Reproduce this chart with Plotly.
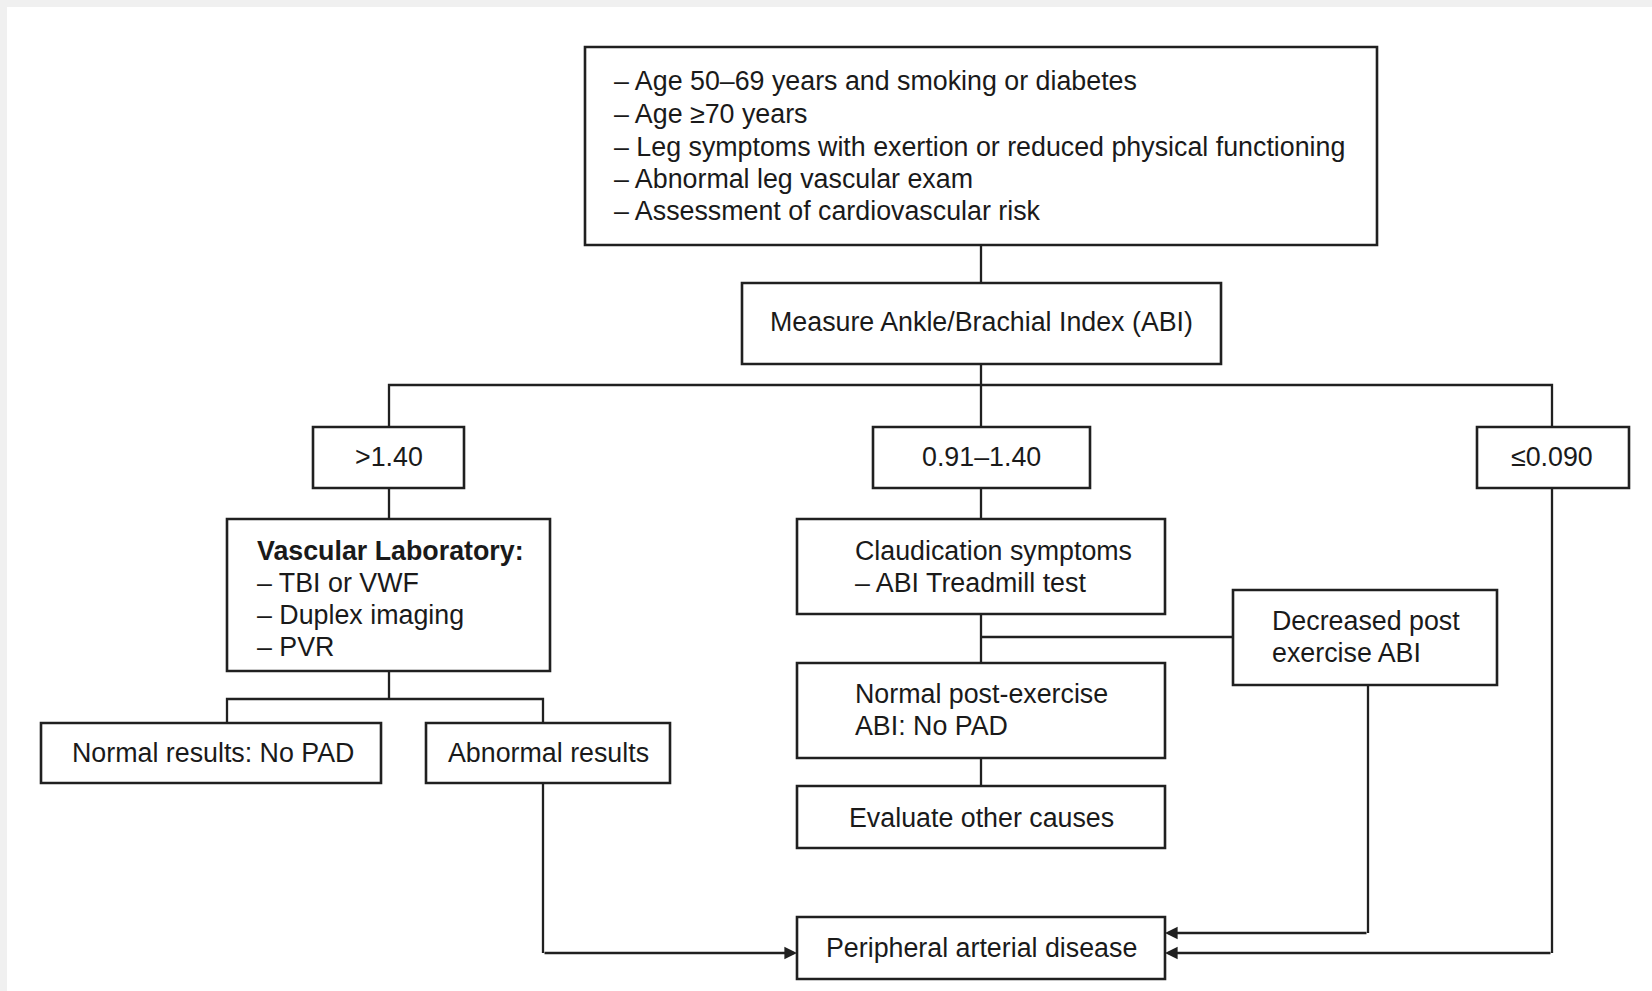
import plotly.graph_objects as go

# ---------------- content (text of the flowchart) ----------------
risk_lines = [
    "– Age 50–69 years and smoking or diabetes",
    "– Age ≥70 years",
    "– Leg symptoms with exertion or reduced physical functioning",
    "– Abnormal leg vascular exam",
    "– Assessment of cardiovascular risk",
]
abi_label = "Measure Ankle/Brachial Index (ABI)"
abi_ranges = [">1.40", "0.91–1.40", "≤0.090"]
vascular_lines = ["<b>Vascular Laboratory:</b>", "– TBI or VWF", "– Duplex imaging", "– PVR"]
vascular_results = ["Normal results: No PAD", "Abnormal results"]
claudication_lines = ["Claudication symptoms", "– ABI Treadmill test"]
decreased_lines = ["Decreased post", "exercise ABI"]
normal_post_lines = ["Normal post-exercise", "ABI: No PAD"]
evaluate_label = "Evaluate other causes"
pad_label = "Peripheral arterial disease"

# ---------------- layout geometry (pixels of the page) ----------------
W, H = 1652, 991
boxes = {
    "top": (585, 47, 1377, 245),
    "abi": (742, 283, 1221, 364),
    "gt": (313, 427, 464, 488),
    "mid": (873, 427, 1090, 488),
    "le": (1477, 427, 1629, 488),
    "vasc": (227, 519, 550, 671),
    "normal": (41, 723, 381, 783),
    "abnormal": (426, 723, 670, 783),
    "claud": (797, 519, 1165, 614),
    "decr": (1233, 590, 1497, 685),
    "normpost": (797, 663, 1165, 758),
    "evalo": (797, 786, 1165, 848),
    "pad": (797, 917, 1165, 979),
}
connectors = [
    [(981, 245), (981, 283)],
    [(981, 364), (981, 427)],
    [(389, 427), (389, 385), (1552, 385), (1552, 427)],
    [(389, 488), (389, 519)],
    [(389, 671), (389, 699)],
    [(227, 723), (227, 699), (543, 699), (543, 723)],
    [(981, 488), (981, 519)],
    [(981, 614), (981, 663)],
    [(981, 637), (1233, 637)],
    [(981, 758), (981, 786)],
    [(543, 783), (543, 953)],
    [(1368, 685), (1368, 933)],
    [(1552, 488), (1552, 953)],
]
arrows = [  # (tail, head)
    ((543, 953), (797, 953)),
    ((1368, 933), (1165, 933)),
    ((1552, 953), (1165, 953)),
]

FONT = "Liberation Sans, Arial, Helvetica, sans-serif"
FS = 26.8
TXT = "#1a1a1a"
EDGE = "#202020"

fig = go.Figure()
shapes = []
annotations = []

# light grey page strips (top and left)
shapes.append(dict(type="rect", xref="x", yref="y", x0=0, x1=W, y0=0, y1=7,
                   line=dict(width=0), fillcolor="#f0f0f0", layer="below"))
shapes.append(dict(type="rect", xref="x", yref="y", x0=0, x1=7, y0=0, y1=H,
                   line=dict(width=0), fillcolor="#f0f0f0", layer="below"))

for name, (x0, y0, x1, y1) in boxes.items():
    shapes.append(dict(type="rect", xref="x", yref="y", x0=x0, y0=y0, x1=x1, y1=y1,
                       line=dict(color=EDGE, width=2.6), fillcolor="white"))

for pts in connectors:
    path = "M " + " L ".join(f"{x},{y}" for x, y in pts)
    shapes.append(dict(type="path", xref="x", yref="y", path=path,
                       line=dict(color=EDGE, width=2.3)))


def text(x, y, s, anchor="left"):
    annotations.append(dict(x=x, y=y, xref="x", yref="y", text=s, showarrow=False,
                            xanchor=anchor, yanchor="middle",
                            font=dict(family=FONT, size=FS, color=TXT)))


def block(x, ys, lines, anchor="left"):
    for yy, s in zip(ys, lines):
        text(x, yy, s, anchor)


block(612, [81, 114, 146.5, 179, 211], risk_lines)
text(981, 322, abi_label, "center")
for cx, s in zip([389, 981, 1552], abi_ranges):
    text(cx, 457, s, "center")
block(255, [551, 583, 615, 647], vascular_lines)
text(213, 753, vascular_results[0], "center")
text(548, 753, vascular_results[1], "center")
block(853, [551, 583], claudication_lines)
block(1270, [621, 653], decreased_lines)
block(853, [694, 726], normal_post_lines)
text(981, 818, evaluate_label, "center")
text(981, 948, pad_label, "center")

for (tx, ty), (hx, hy) in arrows:
    annotations.append(dict(x=hx, y=hy, ax=tx, ay=ty, xref="x", yref="y",
                            axref="x", ayref="y", text="", showarrow=True,
                            arrowhead=2, arrowsize=1.1, arrowwidth=2.3,
                            arrowcolor=EDGE, standoff=0))

fig.update_layout(
    width=W, height=H,
    margin=dict(l=0, r=0, t=0, b=0),
    paper_bgcolor="white", plot_bgcolor="white",
    xaxis=dict(range=[0, W], visible=False, fixedrange=True),
    yaxis=dict(range=[H, 0], visible=False, fixedrange=True),
    shapes=shapes, annotations=annotations, showlegend=False,
)

fig.write_html("out.html", config={"displayModeBar": False},
               post_script="document.body.style.margin='0px';document.body.style.overflow='hidden';")
